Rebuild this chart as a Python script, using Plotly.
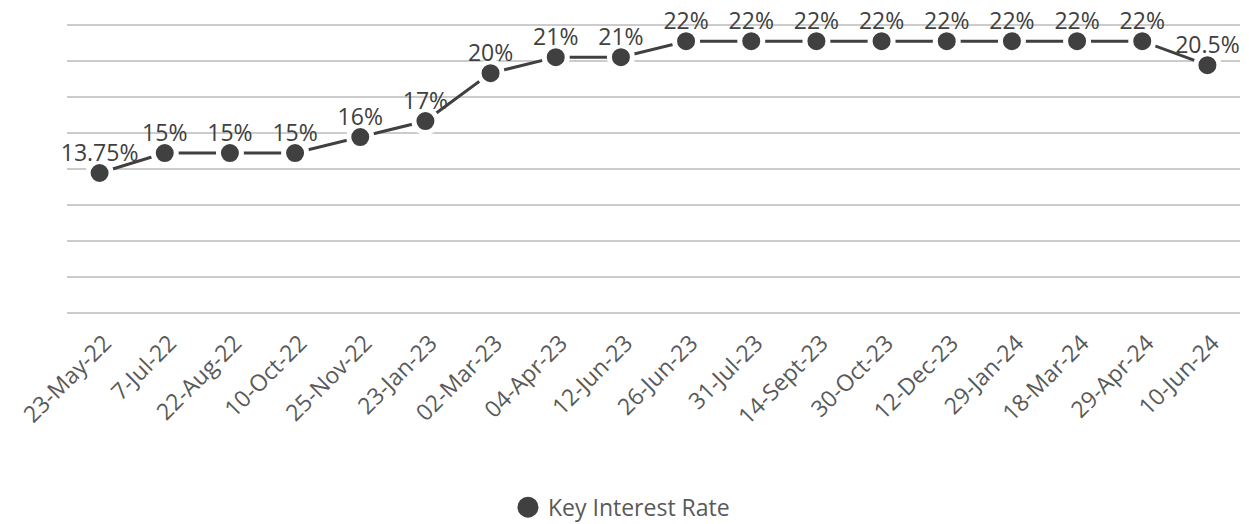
import plotly.graph_objects as go

dates = ["23-May-22", "7-Jul-22", "22-Aug-22", "10-Oct-22", "25-Nov-22", "23-Jan-23",
         "02-Mar-23", "04-Apr-23", "12-Jun-23", "26-Jun-23", "31-Jul-23", "14-Sept-23",
         "30-Oct-23", "12-Dec-23", "29-Jan-24", "18-Mar-24", "29-Apr-24", "10-Jun-24"]
rates = [13.75, 15, 15, 15, 16, 17, 20, 21, 21, 22, 22, 22, 22, 22, 22, 22, 22, 20.5]
labels = [f"{v:g}%" for v in rates]
grid_vals = [5, 7.25, 9.5, 11.75, 14, 16.25, 18.5, 20.75, 23]
series_name = "Key Interest Rate"

fig = go.Figure()
fig.add_trace(go.Scatter(
    x=dates, y=rates, mode="lines+markers", name=series_name, showlegend=False,
    line=dict(color="#404040", width=3),
    marker=dict(size=23, color="#404040", line=dict(color="white", width=5)),
    cliponaxis=False,
))
fig.add_trace(go.Scatter(
    x=dates, y=rates, mode="markers+text", showlegend=False, hoverinfo="skip",
    text=labels, textposition="top center",
    marker=dict(size=8, color="rgba(0,0,0,0)"),
    textfont=dict(family="Open Sans", size=23, color="#404040"),
    cliponaxis=False,
))
fig.add_trace(go.Scatter(
    x=[None], y=[None], mode="markers", name=series_name, showlegend=True,
    marker=dict(size=16, color="#404040", line=dict(color="#404040", width=5)),
))

fig.update_layout(
    width=1249, height=524,
    margin=dict(l=67, r=9, t=22, b=208, autoexpand=False),
    paper_bgcolor="white", plot_bgcolor="white",
    font=dict(family="Open Sans", color="#595959"),
    showlegend=True,
    legend=dict(orientation="h", x=0.4067, xanchor="left", xref="container",
                y=0.032, yanchor="middle", yref="container",
                font=dict(size=23, color="#595959")),
    xaxis=dict(type="category", range=[-0.5, 17.5], showgrid=False, showline=False,
               ticks="", tickangle=-45, tickfont=dict(size=23, color="#595959"),
               ticklabelstandoff=8, ticklabelshift=5, automargin=False),
    yaxis=dict(range=[4.8, 23.2], tickvals=grid_vals, showticklabels=False,
               gridcolor="#cccccc", gridwidth=1.5, zeroline=False, showline=False,
               ticks="", automargin=False),
)

fig.write_html("out.html")
